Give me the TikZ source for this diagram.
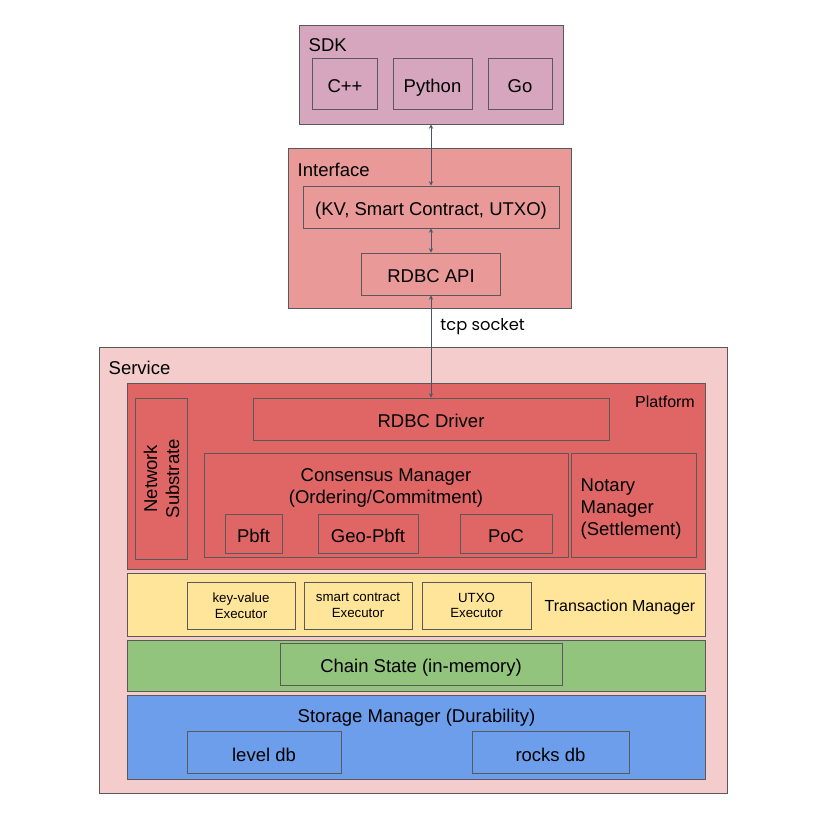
\documentclass[tikz,border=0pt]{standalone}
\usepackage{fontspec}
\setmainfont{Liberation Sans}
\newfontfamily\sockfont{Poppins}
\usepackage{tikz}
\usetikzlibrary{arrows,positioning}
\definecolor{sdkfill}{HTML}{D5A6BD}
\definecolor{iffill}{HTML}{EA9999}
\definecolor{svcfill}{HTML}{F4CCCC}
\definecolor{platfill}{HTML}{E06666}
\definecolor{txfill}{HTML}{FFE599}
\definecolor{csfill}{HTML}{93C47D}
\definecolor{stfill}{HTML}{6D9EEB}
\definecolor{rim}{HTML}{595959}
\definecolor{wire}{HTML}{4A5668}
\tikzstyle{edge}=[<->, >=stealth, line width=0.9pt, draw=wire]
\tikzstyle{box}=[rectangle, draw=rim, line width=0.9pt, inner sep=0pt]

\begin{document}
\begin{tikzpicture}[x=1pt,y=-1pt,
          big/.style={font=\fontsize{18.5}{22}\selectfont},
          mid/.style={font=\fontsize{16}{19}\selectfont},
          tiny/.style={font=\fontsize{13.3}{15.6}\selectfont},
          one/.style={box,big,text height=20pt,text depth=2.8pt}]
        \useasboundingbox (0,0) rectangle (829,823);
        % SDK
        \node [box,fill=sdkfill,minimum width=264,minimum height=99] (sdk) at (431,74.5) {};
        \node [big,inner sep=0pt,anchor=base west] (sdklbl) at (308.5,51.7) {SDK};
        \node [one,minimum width=65,minimum height=51]  (cpp) at (345,83.8)   {C++};
        \node [one,minimum width=79,minimum height=51]  (py)  at (432.5,83.8) {Python};
        \node [one,minimum width=64,minimum height=51]  (go)  at (520,83.8)   {Go};
        % Interface
        \node [box,fill=iffill,minimum width=283,minimum height=160] (iface) at (429.5,228) {};
        \node [big,inner sep=0pt,anchor=base west] (iflbl) at (297.5,176) {Interface};
        \node [one,minimum width=256,minimum height=42] (kv)  at (431,207) {(KV, Smart Contract, UTXO)};
        \node [one,minimum width=139,minimum height=42] (api) at (431,274) {RDBC API};
        % Service
        \node [box,fill=svcfill,minimum width=628,minimum height=446] (svc) at (413,570) {};
        \node [big,inner sep=0pt,anchor=base west] (svclbl) at (108.5,374) {Service};
        \node [box,fill=platfill,minimum width=578,minimum height=186] (plat) at (416,476) {};
        \node [mid,inner sep=0pt,anchor=base east] (platlbl) at (695,407.7) {Platform};
        \node [box,big,rotate=90,align=center,minimum width=161,minimum height=52] (net) at (161.5,478.7) {Network\\Substrate};
        \node [one,minimum width=356,minimum height=42] (drv) at (431,419) {RDBC Driver};
        \node [box,minimum width=364,minimum height=104] (cons) at (386,505.8) {};
        \node [big,align=center,inner sep=0pt,anchor=base] (conslbl) at (386,503.7) {Consensus Manager\\(Ordering/Commitment)};
        \node [one,minimum width=57,minimum height=39]  (pbft) at (253.5,533.8) {Pbft};
        \node [one,minimum width=100,minimum height=39] (geo)  at (368,533.8)   {Geo-Pbft};
        \node [one,minimum width=92,minimum height=39]  (poc)  at (506,533.8)   {PoC};
        \node [box,minimum width=125,minimum height=104] (notary) at (634,505.8) {};
        \node [big,align=left,inner sep=0pt,anchor=base west,font=\fontsize{18.5}{21.7}\selectfont] (notlbl) at (580.5,535) {Notary\\Manager\\(Settlement)};
        % Transaction Manager
        \node [box,fill=txfill,minimum width=578,minimum height=63] (tx) at (416,604.5) {};
        \node [mid,inner sep=0pt,anchor=base east] (txlbl) at (695.5,611.7) {Transaction Manager};
        \node [box,tiny,align=center,minimum width=108,minimum height=47] (kvx) at (241,605.5)   {key-value\\Executor};
        \node [box,tiny,align=center,minimum width=108,minimum height=47] (scx) at (358,605.5)   {smart contract\\Executor};
        \node [box,tiny,align=center,minimum width=109,minimum height=47] (utx) at (476.5,605.5) {UTXO\\Executor};
        % Chain State
        \node [box,fill=csfill,minimum width=578,minimum height=51] (cs) at (416,665.5) {};
        \node [one,minimum width=282,minimum height=42] (csin) at (421,664.2) {Chain State (in-memory)};
        % Storage Manager
        \node [box,fill=stfill,minimum width=578,minimum height=84] (st) at (416,737) {};
        \node [big,inner sep=0pt,anchor=base] (stlbl) at (416.5,722.7) {Storage Manager (Durability)};
        \node [one,minimum width=154,minimum height=42] (lvl)   at (264,752.5)   {level db};
        \node [one,minimum width=157,minimum height=42] (rocks) at (550.5,752.5) {rocks db};
        % links
        \path
        (sdk.south) edge [edge] (kv.north)
        (kv.south)  edge [edge] (api.north)
        (api.south) edge [edge] node [pos=.3,right=9pt,inner sep=0pt,font=\sockfont\fontsize{16.3}{19}\selectfont] {tcp socket} (drv.north);
\end{tikzpicture}
\end{document}
